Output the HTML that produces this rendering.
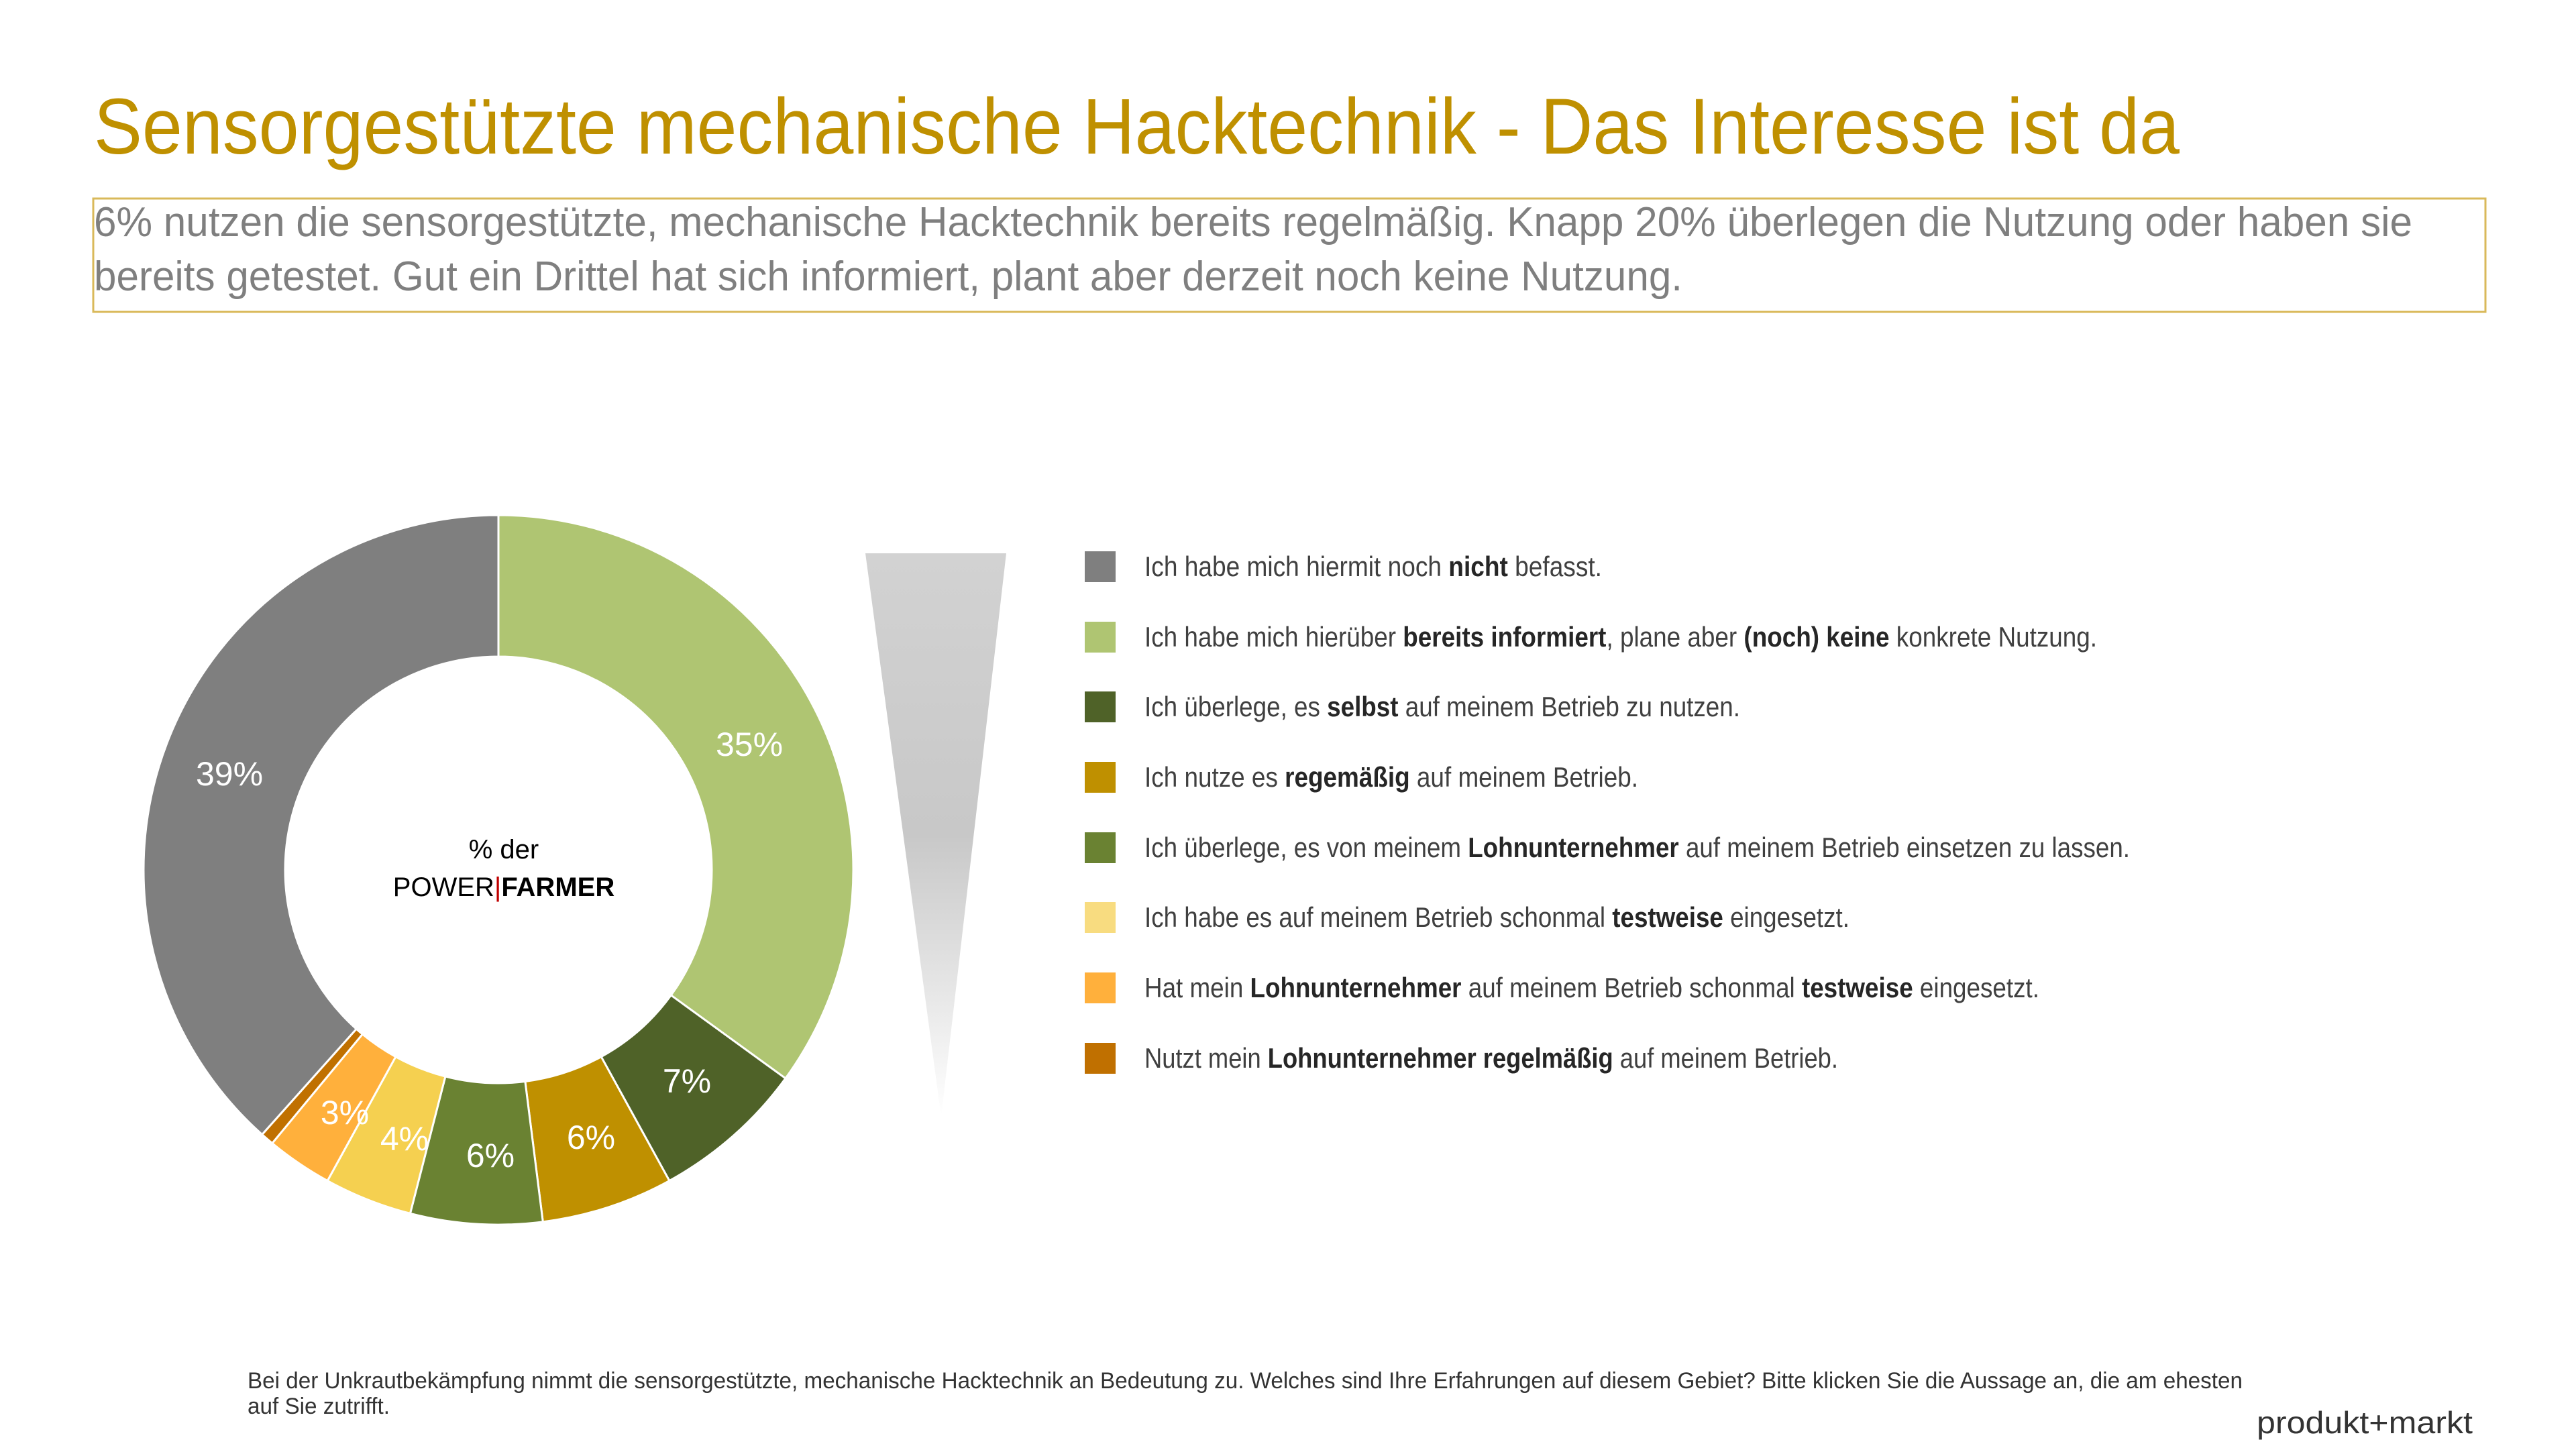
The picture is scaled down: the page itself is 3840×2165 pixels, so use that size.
<!DOCTYPE html>
<html><head><meta charset="utf-8"><style>
html,body{margin:0;padding:0;background:#fff;}
svg{display:block;}
text{font-family:"Liberation Sans",Arial,sans-serif;}
</style></head><body>
<svg id="s" width="3840" height="2165" viewBox="0 0 3840 2165" xmlns="http://www.w3.org/2000/svg">
<defs>
<linearGradient id="tg" x1="0" y1="0" x2="0" y2="1">
<stop offset="0" stop-color="#d2d2d2"/><stop offset="0.5" stop-color="#c8c8c8"/><stop offset="1" stop-color="#ffffff"/>
</linearGradient>
</defs>
<rect width="3840" height="2165" fill="#fff"/>
<text x="140" y="229" font-size="118" fill="#BF9000" textLength="3109" lengthAdjust="spacingAndGlyphs">Sensorgestützte mechanische Hacktechnik  - Das Interesse ist da</text>
<rect x="139" y="296" width="3566" height="169" fill="none" stroke="#D9B95A" stroke-width="3"/>
<text x="140" y="352" font-size="62" fill="#7F7F7F" textLength="3456" lengthAdjust="spacingAndGlyphs">6% nutzen die sensorgestützte, mechanische Hacktechnik bereits regelmäßig. Knapp 20% überlegen die Nutzung oder haben sie</text>
<text x="140" y="433" font-size="62" fill="#7F7F7F" textLength="2368" lengthAdjust="spacingAndGlyphs">bereits getestet. Gut ein Drittel hat sich informiert, plant aber derzeit noch keine Nutzung.</text>

<g id="donut"></g>
<g font-size="50" fill="#fff" text-anchor="middle">
<text x="1117" y="1127">35%</text>
<text x="342" y="1171">39%</text>
<text x="1024" y="1629">7%</text>
<text x="881" y="1713">6%</text>
<text x="731" y="1740">6%</text>
<text x="603" y="1715">4%</text>
<text x="514" y="1676">3%</text>
</g>
<text x="751" y="1280" font-size="40" fill="#000" text-anchor="middle">% der</text>
<text x="751" y="1336" font-size="40" fill="#000" text-anchor="middle">POWER<tspan fill="#C00000">|</tspan><tspan font-weight="bold">FARMER</tspan></text>

<polygon points="1290,825 1500,825 1403,1665" fill="url(#tg)"/>

<g font-size="42" fill="#404040">
<rect x="1617" y="822" width="46" height="46" fill="#7F7F7F"/>
<text x="1706" y="859" textLength="682" lengthAdjust="spacingAndGlyphs">Ich habe mich hiermit noch <tspan font-weight="bold" fill="#262626">nicht</tspan> befasst.</text>
<rect x="1617" y="927" width="46" height="46" fill="#AFC572"/>
<text x="1706" y="964" textLength="1420" lengthAdjust="spacingAndGlyphs">Ich habe mich hierüber <tspan font-weight="bold" fill="#262626">bereits informiert</tspan>, plane aber <tspan font-weight="bold" fill="#262626">(noch) keine</tspan> konkrete Nutzung.</text>
<rect x="1617" y="1031" width="46" height="46" fill="#4F6228"/>
<text x="1706" y="1068" textLength="888" lengthAdjust="spacingAndGlyphs">Ich überlege, es <tspan font-weight="bold" fill="#262626">selbst</tspan> auf meinem Betrieb zu nutzen.</text>
<rect x="1617" y="1136" width="46" height="46" fill="#BF9000"/>
<text x="1706" y="1173" textLength="736" lengthAdjust="spacingAndGlyphs">Ich nutze es <tspan font-weight="bold" fill="#262626">regemäßig</tspan> auf meinem Betrieb.</text>
<rect x="1617" y="1241" width="46" height="46" fill="#6A8232"/>
<text x="1706" y="1278" textLength="1469" lengthAdjust="spacingAndGlyphs">Ich überlege, es von meinem <tspan font-weight="bold" fill="#262626">Lohnunternehmer</tspan> auf meinem Betrieb einsetzen zu lassen.</text>
<rect x="1617" y="1345" width="46" height="46" fill="#F8DC80"/>
<text x="1706" y="1382" textLength="1051" lengthAdjust="spacingAndGlyphs">Ich habe es auf meinem Betrieb schonmal <tspan font-weight="bold" fill="#262626">testweise</tspan> eingesetzt.</text>
<rect x="1617" y="1450" width="46" height="46" fill="#FFB03C"/>
<text x="1706" y="1487" textLength="1334" lengthAdjust="spacingAndGlyphs">Hat mein <tspan font-weight="bold" fill="#262626">Lohnunternehmer</tspan> auf meinem Betrieb schonmal <tspan font-weight="bold" fill="#262626">testweise</tspan> eingesetzt.</text>
<rect x="1617" y="1555" width="46" height="46" fill="#C07000"/>
<text x="1706" y="1592" textLength="1034" lengthAdjust="spacingAndGlyphs">Nutzt mein <tspan font-weight="bold" fill="#262626">Lohnunternehmer regelmäßig</tspan> auf meinem Betrieb.</text>
</g>

<text x="369" y="2070" font-size="34" fill="#333" textLength="2974" lengthAdjust="spacingAndGlyphs">Bei der Unkrautbekämpfung nimmt die sensorgestützte, mechanische Hacktechnik an Bedeutung zu. Welches sind Ihre Erfahrungen auf diesem Gebiet? Bitte klicken Sie die Aussage an, die am ehesten</text>
<text x="369" y="2108" font-size="34" fill="#333" textLength="212" lengthAdjust="spacingAndGlyphs">auf Sie zutrifft.</text>
<text x="3364" y="2137" font-size="46" fill="#333" font-family="DejaVu Sans, sans-serif" textLength="322" lengthAdjust="spacingAndGlyphs">produkt+markt</text>
</svg>
<script>
(function(){
var cx=743,cy=1297,R=529,r=318;
var vals=[35,7,6,6,4,3,0.6,38.4];
var cols=["#AFC572","#4F6228","#BF9000","#6A8232","#F5D050","#FFB03C","#C07000","#7F7F7F"];
var g=document.getElementById("donut"),a0=0,ns="http://www.w3.org/2000/svg";
function pt(rad,a){return [cx+rad*Math.sin(a),cy-rad*Math.cos(a)];}
for(var i=0;i<vals.length;i++){
 var a1=a0+vals[i]/100*2*Math.PI,l=(a1-a0)>Math.PI?1:0;
 var p1=pt(R,a0),p2=pt(R,a1),p3=pt(r,a1),p4=pt(r,a0);
 var d="M"+p1+"A"+R+","+R+" 0 "+l+" 1 "+p2+"L"+p3+"A"+r+","+r+" 0 "+l+" 0 "+p4+"Z";
 var p=document.createElementNS(ns,"path");
 p.setAttribute("d",d.replace(/,/g," ").replace(/ (\d)/g," $1"));
 p.setAttribute("d",d);
 p.setAttribute("fill",cols[i]);p.setAttribute("stroke","#fff");p.setAttribute("stroke-width","3");
 g.appendChild(p);a0=a1;
}
})();
</script>
</body></html>
